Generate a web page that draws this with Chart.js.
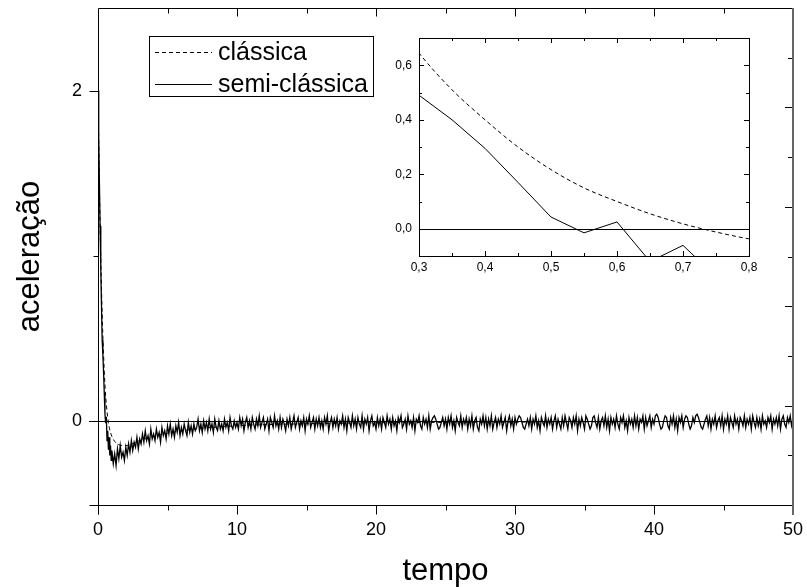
<!DOCTYPE html>
<html>
<head>
<meta charset="utf-8">
<script src="https://cdn.jsdelivr.net/npm/chart.js@4.4.1/dist/chart.umd.min.js"></script>
<style>
html, body {margin: 0; padding: 0; background: #fff;}
#wrap {position: relative; width: 807px; height: 587px;}
#main {position: absolute; left: 0; top: 0;}
#inset {position: absolute; left: 380px; top: 20px;}
</style>
</head>
<body>
<div id="wrap">
	<canvas id="main" width="807" height="587"></canvas>
	<canvas id="inset" width="390" height="270"></canvas>
</div>
<script>
const FONT = '"Liberation Sans", Arial, sans-serif'

const classT = [0, 0.1, 0.2, 0.3, 0.35, 0.4, 0.45, 0.5, 0.55, 0.6, 0.65, 0.7, 0.75, 0.8, 0.9, 1.0, 1.2, 1.5, 2, 3, 4, 5, 7, 10, 15, 20, 30, 40, 50]
const classV = [2.0, 1.42, 0.98, 0.645, 0.51, 0.40, 0.30, 0.217, 0.15, 0.10, 0.055, 0.018, -0.012, -0.037, -0.07, -0.095, -0.125, -0.145, -0.15, -0.12, -0.095, -0.075, -0.05, -0.03, -0.018, -0.012, -0.008, -0.005, -0.004]

// semi-classical, first part (step 0.05, matches the inset)
const semiEarlyT = [0, 0.05, 0.1, 0.15, 0.2, 0.25, 0.3, 0.35, 0.4, 0.45, 0.5, 0.55, 0.6, 0.65, 0.7, 0.75, 0.8, 0.85, 0.9, 0.95, 1.0]
const semiEarlyV = [2.0, 1.72, 1.45, 1.18, 0.93, 0.70, 0.49, 0.40, 0.295, 0.17, 0.043, -0.015, 0.025, -0.12, -0.061, -0.176, -0.10, -0.21, -0.15, -0.24, -0.18]

// semi-classical, from t = 1.1 to 50 every 0.1
const semiLateStart = 1.1
const semiLateStep = 0.1
const semiLateV = [
	-0.26, -0.20, -0.27, -0.17, -0.23, -0.15, -0.22, -0.19, -0.24, -0.16,
	-0.21, -0.14, -0.19, -0.12, -0.18, -0.13, -0.16, -0.10, -0.17, -0.11,
	-0.14, -0.08, -0.13, -0.06, -0.12, -0.09, -0.14, -0.05, -0.11, -0.08,
	-0.12, -0.05, -0.10, -0.07, -0.13, -0.04, -0.09, -0.06, -0.11, -0.03,
	-0.08, -0.02, -0.09, -0.05, -0.10, -0.03, -0.07, -0.01, -0.09, -0.04,
	-0.08, -0.02, -0.06, -0.09, -0.01, -0.07, -0.03, -0.08, -0.02, -0.06,
	-0.04, 0.01, -0.06, -0.02, -0.07, 0.00, -0.05, -0.01, -0.06, 0.01,
	-0.05, -0.02, -0.07, 0.01, -0.04, -0.06, 0.00, -0.05, -0.02, -0.06,
	0.01, -0.04, -0.01, -0.06, 0.02, -0.03, -0.05, 0.00, -0.04, -0.01,
	-0.05, 0.02, -0.03, 0.01, -0.06, -0.01, 0.02, -0.04, 0.00, -0.05,
	0.02, -0.02, -0.05, 0.01, -0.03, 0.03, -0.04, -0.01, 0.02, -0.05,
	-0.02, 0.01, -0.06, 0.02, -0.01, -0.04, 0.03, -0.03, 0.00, -0.05,
	0.02, -0.04, 0.01, -0.02, -0.06, 0.01, -0.03, 0.02, -0.05, -0.01,
	0.03, -0.04, -0.01, 0.02, -0.05, 0.00, -0.03, 0.02, -0.06, 0.01,
	-0.02, 0.03, -0.04, -0.01, 0.02, -0.05, 0.01, -0.03, 0.02, -0.04,
	0.00, -0.05, 0.02, -0.02, 0.03, -0.06, -0.01, 0.02, -0.04, 0.01,
	-0.03, 0.02, -0.05, 0.00, -0.02, 0.03, -0.04, 0.01, -0.06, 0.02,
	-0.01, -0.04, 0.03, -0.03, 0.01, -0.05, 0.02, -0.02, -0.04, 0.03,
	-0.05, 0.01, -0.02, 0.02, -0.06, 0.00, 0.03, -0.03, -0.01, -0.05,
	0.02, -0.03, 0.01, -0.05, 0.02, -0.01, -0.04, 0.03, -0.02, 0.01,
	-0.05, 0.02, -0.03, 0.00, -0.06, 0.02, -0.01, 0.03, -0.04, -0.02,
	0.01, -0.05, 0.03, -0.02, 0.00, -0.04, 0.02, -0.06, 0.01, -0.01,
	0.03, -0.03, -0.05, 0.02, -0.02, 0.01, -0.04, 0.03, -0.05, 0.00,
	0.02, 0.03, 0.01, -0.02, -0.05, -0.04, -0.01, 0.02, -0.03, 0.01,
	-0.05, 0.02, -0.02, 0.03, -0.04, 0.00, -0.06, 0.02, -0.01, -0.03,
	0.03, -0.04, 0.01, -0.02, 0.02, -0.05, 0.01, -0.03, 0.03, -0.05,
	0.00, 0.02, -0.04, -0.06, 0.01, -0.02, 0.03, -0.03, 0.02, -0.05,
	0.01, -0.03, 0.03, -0.05, -0.01, 0.02, -0.04, 0.01, -0.02, 0.03,
	-0.04, -0.01, 0.02, -0.06, 0.00, 0.03, -0.03, 0.01, -0.05, 0.02,
	-0.02, 0.01, 0.03, 0.02, -0.01, -0.04, -0.05, -0.02, 0.01, -0.03,
	0.02, -0.05, 0.01, -0.02, 0.03, -0.04, 0.00, -0.06, 0.02, -0.01,
	-0.03, 0.03, -0.04, 0.01, -0.02, 0.02, -0.05, 0.00, 0.03, -0.04,
	0.01, -0.02, -0.05, 0.02, -0.03, 0.03, -0.01, -0.05, 0.02, 0.00,
	-0.04, 0.02, -0.02, 0.03, -0.06, 0.01, -0.03, 0.02, -0.01, -0.05,
	0.03, 0.01, -0.02, -0.05, -0.03, 0.02, 0.03, -0.01, -0.04, 0.02,
	-0.05, 0.00, 0.02, -0.03, 0.03, -0.04, 0.01, -0.06, 0.02, -0.02,
	0.01, -0.04, 0.03, -0.02, -0.05, 0.02, -0.01, 0.03, -0.04, 0.00,
	-0.06, 0.02, -0.02, 0.01, -0.04, 0.03, -0.03, 0.02, -0.05, 0.01,
	-0.01, 0.03, -0.05, 0.02, -0.03, 0.00, 0.03, -0.04, 0.01, -0.02,
	0.03, 0.04, 0.02, -0.02, -0.05, -0.04, 0.00, 0.03, 0.02, -0.03,
	-0.05, 0.02, -0.02, 0.03, -0.04, 0.01, -0.06, 0.02, -0.01, 0.03,
	-0.04, 0.01, 0.03, 0.02, -0.02, -0.05, -0.03, 0.02, -0.01, 0.03,
	0.04, 0.02, -0.01, -0.04, -0.05, -0.02, 0.01, 0.03, -0.03, 0.02,
	-0.05, 0.01, -0.02, 0.03, -0.04, 0.00, 0.02, -0.03, 0.03, -0.05,
	0.01, -0.02, 0.03, -0.05, 0.02, -0.01, -0.04, 0.03, -0.02, 0.01,
	-0.05, 0.02, 0.00, -0.03, 0.03, -0.04, 0.01, -0.02, 0.02, -0.05,
	0.03, -0.01, -0.04, 0.02, -0.03, 0.01, -0.05, 0.03, -0.02, 0.00,
	-0.04, 0.02, -0.01, 0.03, -0.05, 0.01, -0.02, 0.02, -0.03, 0.03,
	-0.05, 0.01, 0.03, -0.02, -0.04, 0.02, -0.01, 0.03, -0.03, 0.01,
]

// axis ticks
const mainXMajor = [0, 10, 20, 30, 40, 50]
const mainXMinor = [5, 15, 25, 35, 45]
const mainYMajor = [0, 2]
const mainYMinor = [1]
const rightTicks = [1, 2, 3, 4, 5, 6, 7, 8, 9]
const insetXMajor = [0.3, 0.4, 0.5, 0.6, 0.7, 0.8]
const insetXMinor = [0.35, 0.45, 0.55, 0.65, 0.75]
const insetYMajor = [0, 0.2, 0.4, 0.6]
const insetYMinor = [-0.1, 0.1, 0.3, 0.5]

const labels = ['clássica', 'semi-clássica']

const classPoints = classT.map((t, i) => ({x: t, y: classV[i]}))
const semiPoints = semiEarlyT.map((t, i) => ({x: t, y: semiEarlyV[i]}))
semiLateV.forEach((v, i) => semiPoints.push({x: +(semiLateStart + i * semiLateStep).toFixed(2), y: v}))

function makeDatasets(width) {
	return [{
		label: labels[0],
		data: classPoints,
		borderColor: '#000',
		borderWidth: 1,
		borderDash: [4, 3],
		cubicInterpolationMode: 'monotone',
		pointRadius: 0,
		fill: false,
	}, {
		label: labels[1],
		data: semiPoints,
		borderColor: '#000',
		borderWidth: width,
		tension: 0,
		pointRadius: 0,
		fill: false,
	}]
}

function line(ctx, x1, y1, x2, y2) {
	ctx.beginPath()
	ctx.moveTo(x1, y1)
	ctx.lineTo(x2, y2)
	ctx.stroke()
}

const mainDecor = {
	id: 'mainDecor',
	beforeDatasetsDraw(chart) {
		const {ctx, chartArea: a, scales: {y}} = chart
		ctx.save()
		ctx.strokeStyle = '#000'
		ctx.lineWidth = 1
		const y0 = Math.round(y.getPixelForValue(0)) + 0.5
		line(ctx, a.left - 9, y0, a.right, y0)
		ctx.restore()
	},
	afterDraw(chart) {
		const {ctx, chartArea: a, scales: {x, y, y2}} = chart
		ctx.save()
		ctx.strokeStyle = '#000'
		ctx.lineWidth = 1
		const L = a.left + 0.5, T = a.top + 0.5, B = a.bottom + 0.5
		line(ctx, L, T, a.right, T)
		line(ctx, L, T, L, B + 9)
		line(ctx, L - 9, B, a.right, B)
		for (const v of mainXMajor) {
			const px = Math.round(x.getPixelForValue(v)) + 0.5
			line(ctx, px, B, px, B + 9)
			if (v > 0 && v < 50) line(ctx, px, T, px, T + 8)
		}
		for (const v of mainXMinor) {
			const px = Math.round(x.getPixelForValue(v)) + 0.5
			line(ctx, px, B, px, B + 5)
			line(ctx, px, T, px, T + 5)
		}
		for (const v of mainYMajor) {
			const py = Math.round(y.getPixelForValue(v)) + 0.5
			line(ctx, L - 9, py, L, py)
		}
		for (const v of mainYMinor) {
			const py = Math.round(y.getPixelForValue(v)) + 0.5
			line(ctx, L - 5, py, L, py)
		}
		for (const v of rightTicks) {
			const py = Math.round(y2.getPixelForValue(v)) + 0.5
			line(ctx, a.right, py, a.right - (v % 2 === 0 ? 8 : 5), py)
		}
		ctx.strokeStyle = '#666'
		ctx.lineWidth = 2
		line(ctx, a.right, a.top, a.right, a.bottom + 10)

		// legend
		ctx.strokeStyle = '#000'
		ctx.lineWidth = 1
		ctx.fillStyle = '#fff'
		ctx.fillRect(149, 36, 224, 60)
		ctx.strokeRect(149.5, 36.5, 224, 60)
		ctx.font = '25px ' + FONT
		ctx.fillStyle = '#000'
		ctx.textBaseline = 'middle'
		const rows = [52, 84]
		chart.data.datasets.forEach((ds, i) => {
			ctx.setLineDash(ds.borderDash || [])
			line(ctx, 155, rows[i] + 0.5, 212, rows[i] + 0.5)
			ctx.setLineDash([])
			ctx.fillText(ds.label, 218, rows[i] + 1)
		})
		ctx.restore()
	},
}

const insetDecor = {
	id: 'insetDecor',
	beforeDatasetsDraw(chart) {
		const {ctx, chartArea: a, scales: {y}} = chart
		ctx.save()
		ctx.fillStyle = '#fff'
		ctx.fillRect(a.left, a.top, a.right - a.left, a.bottom - a.top)
		ctx.strokeStyle = '#000'
		ctx.lineWidth = 1
		const y0 = Math.round(y.getPixelForValue(0)) + 0.5
		line(ctx, a.left, y0, a.right, y0)
		ctx.restore()
	},
	afterDraw(chart) {
		const {ctx, chartArea: a, scales: {x, y}} = chart
		ctx.save()
		ctx.strokeStyle = '#000'
		ctx.lineWidth = 1
		ctx.strokeRect(a.left + 0.5, a.top + 0.5, a.right - a.left, a.bottom - a.top)
		const ticksX = (vals, len) => vals.forEach(v => {
			const px = Math.round(x.getPixelForValue(v)) + 0.5
			line(ctx, px, a.bottom, px, a.bottom - len)
			line(ctx, px, a.top, px, a.top + len)
		})
		const ticksY = (vals, len) => vals.forEach(v => {
			const py = Math.round(y.getPixelForValue(v)) + 0.5
			line(ctx, a.left, py, a.left + len, py)
			line(ctx, a.right, py, a.right - len, py)
		})
		ticksX(insetXMajor, 5)
		ticksX(insetXMinor, 3)
		ticksY(insetYMajor, 5)
		ticksY(insetYMinor, 3)
		ctx.restore()
	},
}

const comma = v => Number(v).toFixed(1).replace('.', ',')

new Chart(document.getElementById('main'), {
	type: 'line',
	data: {datasets: makeDatasets(1.3)},
	plugins: [mainDecor],
	options: {
		responsive: false,
		animation: false,
		layout: {padding: {top: 8, right: 14, left: 0, bottom: 0}},
		plugins: {legend: {display: false}, tooltip: {enabled: false}},
		scales: {
			x: {
				type: 'linear', min: 0, max: 50, position: 'bottom',
				grid: {display: false, drawTicks: false},
				border: {display: false},
				ticks: {color: '#000', font: {family: FONT, size: 18}, padding: 14, maxRotation: 0, autoSkip: false, callback: v => String(v)},
				afterBuildTicks: s => { s.ticks = mainXMajor.map(v => ({value: v})) },
				afterFit: s => { s.height = 82; s.paddingLeft = 0; s.paddingRight = 0 },
				title: {display: true, text: 'tempo', color: '#000', font: {family: FONT, size: 31}, padding: {top: 0, bottom: -3}},
			},
			y: {
				type: 'linear', min: -0.51, max: 2.5, position: 'left',
				grid: {display: false, drawTicks: false},
				border: {display: false},
				ticks: {color: '#000', font: {family: FONT, size: 18}, padding: 16, callback: v => String(v)},
				afterBuildTicks: s => { s.ticks = mainYMajor.map(v => ({value: v})) },
				afterFit: s => { s.width = 98; s.paddingTop = 0; s.paddingBottom = 0 },
				title: {display: true, text: 'aceleração', color: '#000', font: {family: FONT, size: 31}, padding: {top: 12, bottom: 0}},
			},
			y2: {type: 'linear', min: 0, max: 10, position: 'right', display: false},
		},
	},
})

new Chart(document.getElementById('inset'), {
	type: 'line',
	data: {datasets: makeDatasets(1)},
	plugins: [insetDecor],
	options: {
		responsive: false,
		animation: false,
		layout: {padding: {top: 18, right: 21, left: 0, bottom: 0}},
		plugins: {legend: {display: false}, tooltip: {enabled: false}},
		scales: {
			x: {
				type: 'linear', min: 0.3, max: 0.8,
				grid: {display: false, drawTicks: false},
				border: {display: false},
				ticks: {color: '#000', font: {family: FONT, size: 12}, padding: 4, maxRotation: 0, autoSkip: false, callback: comma},
				afterBuildTicks: s => { s.ticks = insetXMajor.map(v => ({value: v})) },
				afterFit: s => { s.height = 34; s.paddingLeft = 0; s.paddingRight = 0 },
			},
			y: {
				type: 'linear', min: -0.1, max: 0.7,
				grid: {display: false, drawTicks: false},
				border: {display: false},
				ticks: {color: '#000', font: {family: FONT, size: 12}, padding: 7, callback: comma},
				afterBuildTicks: s => { s.ticks = insetYMajor.map(v => ({value: v})) },
				afterFit: s => { s.width = 39; s.paddingTop = 0; s.paddingBottom = 0 },
			},
		},
	},
})
</script>
</body>
</html>
